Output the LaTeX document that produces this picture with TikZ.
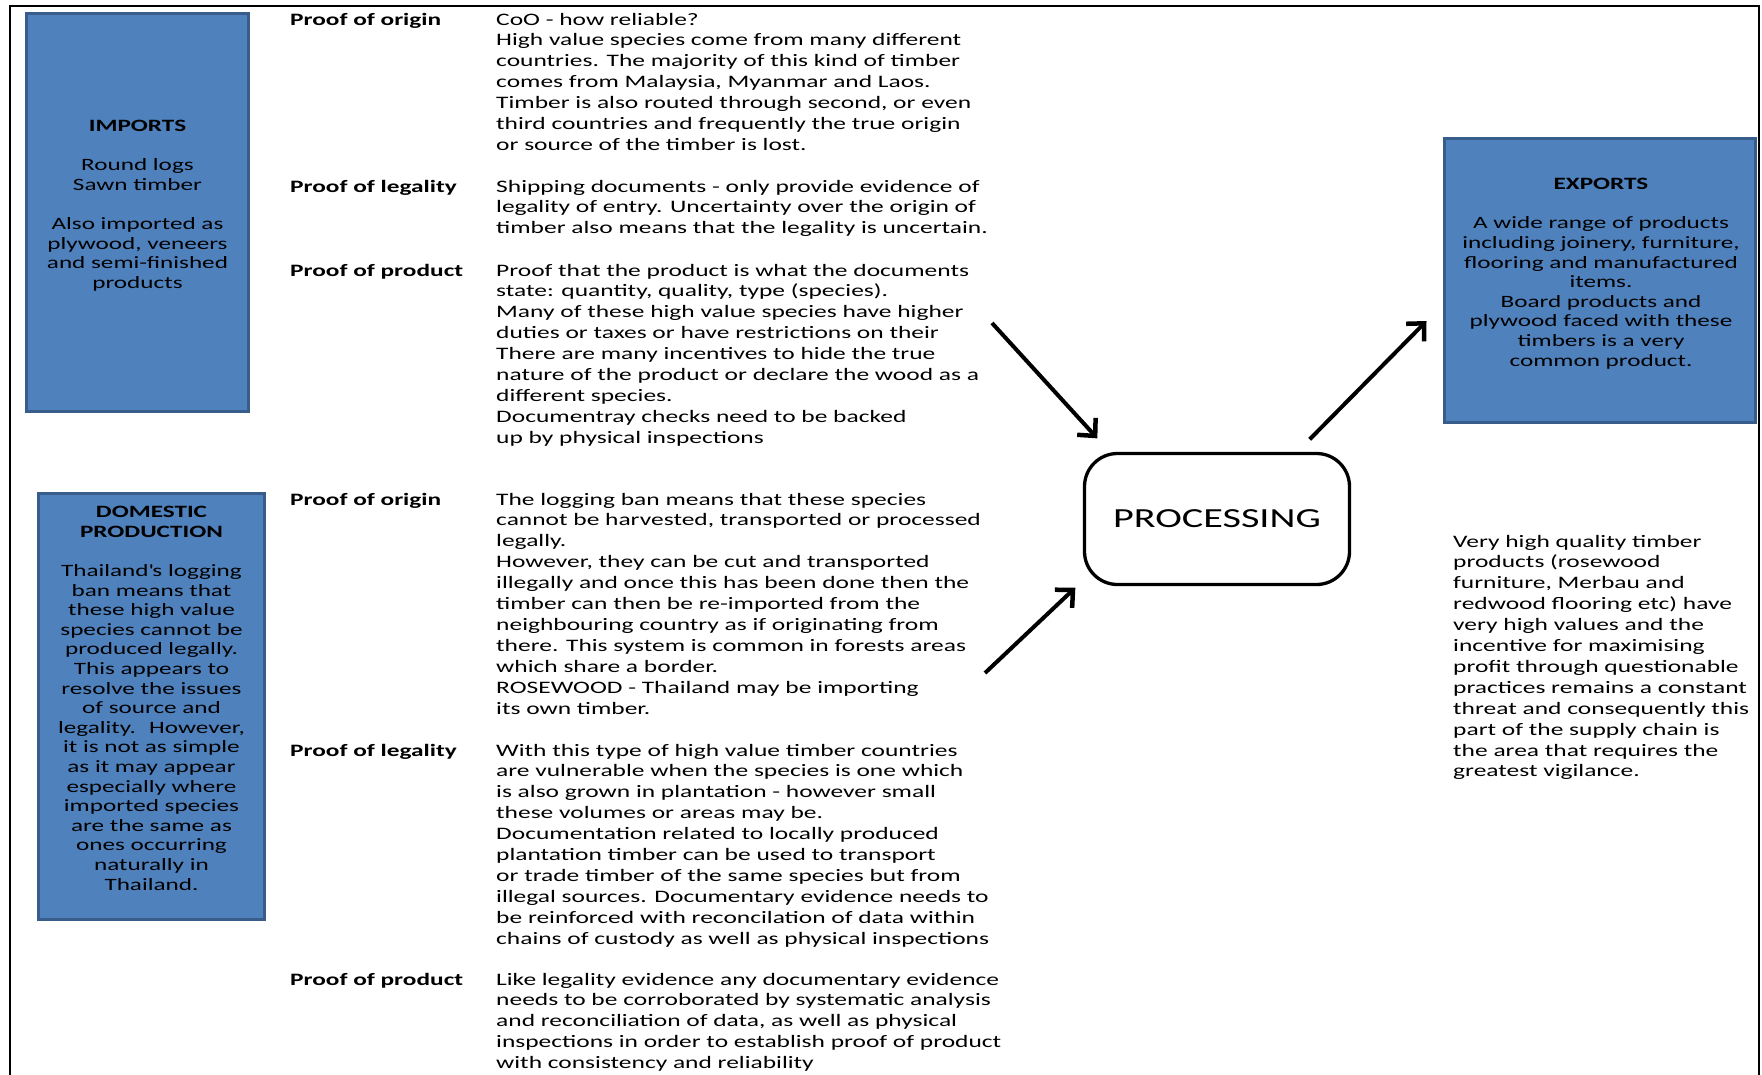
\documentclass[tikz,border=0pt]{standalone}
\usepackage{fontspec}
\setmainfont{Carlito}[FakeStretch=1.455]
\usepackage{tikz}
\usetikzlibrary{arrows.meta}
\definecolor{boxblue}{HTML}{4F81BD}
\definecolor{boxedge}{HTML}{385D8A}
\begin{document}
\begin{tikzpicture}[x=1pt,y=-1pt,
  bluebox/.style={draw=boxedge, fill=boxblue, line width=3pt, inner sep=0pt},
  boxtxt/.style={anchor=base, align=center, inner sep=0pt, font=\fontsize{17.3}{19.6}\selectfont},
  prooflbl/.style={anchor=base west, inner sep=0pt, font=\fontsize{17.4}{20.9}\selectfont\bfseries},
  prooftxt/.style={anchor=base west, align=left, inner sep=0pt, font=\fontsize{17.5}{20.9}\selectfont},
  flow/.style={line width=4pt, -{Straight Barb[length=13pt,width=25pt,line width=4.5pt]}}]
\useasboundingbox (0,0) rectangle (1762,1074);
\draw[line width=2.7pt] (10,1080) -- (10,6) -- (1759,6) -- (1759,1080);

\node[bluebox, minimum width=222pt, minimum height=398pt] (imports) at (137.5,212.5) {};
\node[boxtxt] (imptxt) at (137.5,288.3) {\textbf{IMPORTS}\\[19.6pt]Round logs\\Sawn timber\\[19.6pt]Also imported as\\plywood, veneers\\and semi-finished\\products};
\node[bluebox, minimum width=226pt, minimum height=426pt] (domestic) at (151.5,706.5) {};
\node[boxtxt] (domtxt) at (151.5,890) {\textbf{DOMESTIC}\\\textbf{PRODUCTION}\\[19.6pt]Thailand\textquotesingle s logging\\ban means that\\these high value\\species cannot be\\produced legally.\\This appears to\\resolve the issues\\of source and\\legality.~ However,\\it is not as simple\\as it may appear\\especially where\\imported species\\are the same as\\ones occurring\\naturally in\\Thailand.};
\node[bluebox, minimum width=311pt, minimum height=284pt] (exports) at (1600,280.5) {};
\node[boxtxt] (exptxt) at (1601,366) {\textbf{EXPORTS}\\[19.6pt]A wide range of products\\including joinery, furniture,\\flooring and manufactured\\items.\\Board products and\\plywood faced with these\\timbers is a very\\common product.};

\node[draw, line width=3.3pt, rounded corners=33pt, minimum width=265pt, minimum height=131pt, font=\fontsize{27.6}{33}\selectfont] (proc) at (1217,519) {PROCESSING};

\node[prooflbl] (origA) at (290,25) {Proof of origin};
\node[prooftxt] (origAtxt) at (496,150.4) {CoO - how reliable?\\High value species come from many different\\countries. The majority of this kind of timber\\comes from Malaysia, Myanmar and Laos.\\Timber is also routed through second, or even\\third countries and frequently the true origin\\or source of the timber is lost.};
\node[prooflbl] (legalA) at (290,192) {Proof of legality};
\node[prooftxt] (legalAtxt) at (496,233.8) {Shipping documents - only provide evidence of\\legality of entry. Uncertainty over the origin of\\timber also means that the legality is uncertain.};
\node[prooflbl] (prodA) at (290,276) {Proof of product};
\node[prooftxt] (prodAtxt) at (496,443.2) {Proof that the product is what the documents\\state: quantity, quality, type (species).\\Many of these high value species have higher\\duties or taxes or have restrictions on their\\There are many incentives to hide the true\\nature of the product or declare the wood as a\\different species.\\Documentray checks need to be backed\\up by physical inspections};

\node[prooflbl] (origB) at (290,505) {Proof of origin};
\node[prooftxt] (origBtxt) at (496,714) {The logging ban means that these species\\cannot be harvested, transported or processed\\legally.\\However, they can be cut and transported\\illegally and once this has been done then the\\timber can then be re-imported from the\\neighbouring country as if originating from\\there. This system is common in forests areas\\which share a border.\\ROSEWOOD - Thailand may be importing\\its own timber.};
\node[prooflbl] (legalB) at (290,756) {Proof of legality};
\node[prooftxt] (legalBtxt) at (496,944.1) {With this type of high value timber countries\\are vulnerable when the species is one which\\is also grown in plantation - however small\\these volumes or areas may be.\\Documentation related to locally produced\\plantation timber can be used to transport\\or trade timber of the same species but from\\illegal sources. Documentary evidence needs to\\be reinforced with reconcilation of data within\\chains of custody as well as physical inspections};
\node[prooflbl] (prodB) at (290,985) {Proof of product};
\node[prooftxt] (prodBtxt) at (496,1068.6) {Like legality evidence any documentary evidence\\needs to be corroborated by systematic analysis\\and reconciliation of data, as well as physical\\inspections in order to establish proof of product\\with consistency and reliability};

\node[prooftxt] (value) at (1453,776.9) {Very high quality timber\\products (rosewood\\furniture, Merbau and\\redwood flooring etc) have\\very high values and the\\incentive for maximising\\profit through questionable\\practices remains a constant\\threat and consequently this\\part of the supply chain is\\the area that requires the\\greatest vigilance.};

\coordinate (inA) at (992,323);
\coordinate (inB) at (985,673);
\draw[flow] (inA) -- ([shift={(14.5,-13.5)}]proc.north west);
\draw[flow] (inB) -- ([shift={(-7.5,1.5)}]proc.south west);
\draw[flow] ([shift={(-41.5,-12.5)}]proc.north east) -- ([shift={(-16.5,40.5)}]exports.west);
\end{tikzpicture}
\end{document}
